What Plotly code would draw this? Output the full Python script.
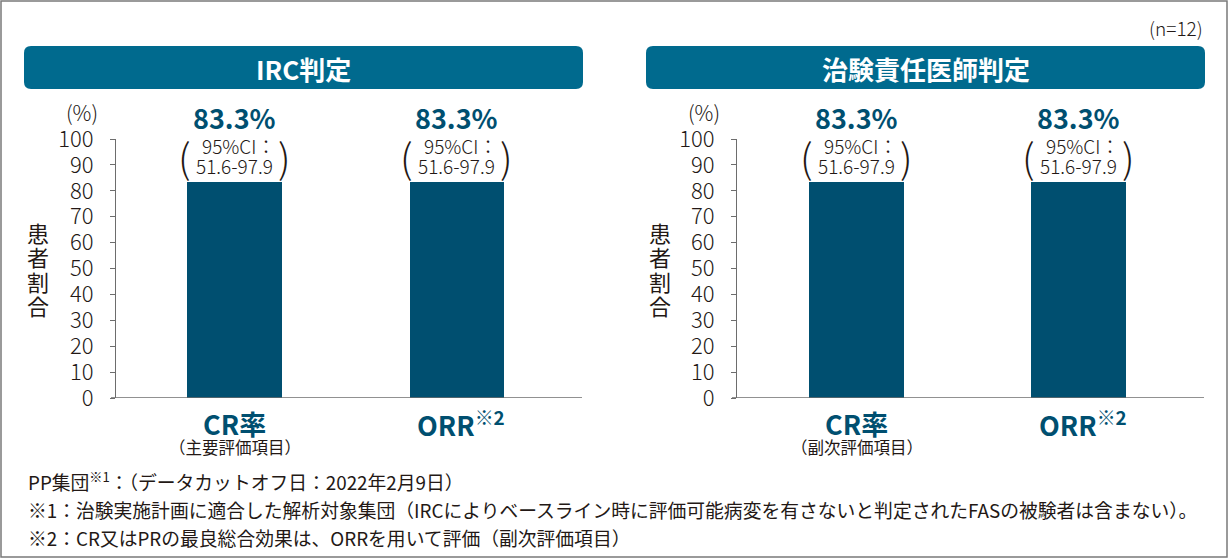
import plotly.graph_objects as go

W, H = 1229, 560

# ---- data ----
categories = ["CR率", "ORR"]
category_labels = ["CR率", "ORR<sup>※2</sup>"]
irc_values = [83.3, 83.3]
irc_ci_low = [51.6, 51.6]
irc_ci_high = [97.9, 97.9]
irc_sub = ["（主要評価項目）", ""]
inv_values = [83.3, 83.3]
inv_ci_low = [51.6, 51.6]
inv_ci_high = [97.9, 97.9]
inv_sub = ["（副次評価項目）", ""]
y_ticks = [0, 10, 20, 30, 40, 50, 60, 70, 80, 90, 100]
panel_titles = ["IRC判定", "治験責任医師判定"]
n_label = "(n=12)"
y_title_chars = ["患", "者", "割", "合"]
footnotes = [
    "PP集団<sup>※1</sup>：（データカットオフ日：2022年2月9日）",
    "※1：治験実施計画に適合した解析対象集団（IRCによりベースライン時に評価可能病変を有さないと判定されたFASの被験者は含まない）。",
    "※2：CR又はPRの最良総合効果は、ORRを用いて評価（副次評価項目）",
]

BAR = "#004f70"
HEAD = "#006a8e"
TXT = "#231815"
AX = "#6d6d6d"
FONT = "Noto Sans CJK JP"

def px(x):
    return x / W

def py(y):
    return 1 - y / H

fig = go.Figure()

panels = [
    dict(vals=irc_values, lo=irc_ci_low, hi=irc_ci_high, sub=irc_sub, xa="x", ya="y",
         dom=(116, 582), rng=[-0.533, 1.562], width=0.427, head=(24, 583), yt_x=38, pct_x=82),
    dict(vals=inv_values, lo=inv_ci_low, hi=inv_ci_high, sub=inv_sub, xa="x2", ya="y2",
         dom=(737, 1204), rng=[-0.54, 1.564], width=0.428, head=(646, 1205), yt_x=660, pct_x=704),
]

annotations = []
shapes = []

def rounded_rect(x0, y0, x1, y1, r):
    X0, X1 = px(x0), px(x1)
    Y0, Y1 = py(y0), py(y1)
    rx, ry = r / W, r / H
    return (f"M {X0+rx},{Y0} L {X1-rx},{Y0} Q {X1},{Y0} {X1},{Y0-ry} "
            f"L {X1},{Y1+ry} Q {X1},{Y1} {X1-rx},{Y1} L {X0+rx},{Y1} "
            f"Q {X0},{Y1} {X0},{Y1+ry} L {X0},{Y0-ry} Q {X0},{Y0} {X0+rx},{Y0} Z")

for i, p in enumerate(panels):
    fig.add_trace(go.Bar(x=categories, y=p["vals"], width=p["width"], marker=dict(color=BAR, line=dict(width=0)),
                         xaxis=p["xa"], yaxis=p["ya"], hoverinfo="skip", showlegend=False))
    # header box
    shapes.append(dict(type="path", path=rounded_rect(p["head"][0], 46, p["head"][1], 89, 7),
                       xref="paper", yref="paper", fillcolor=HEAD, line=dict(width=0), layer="below"))
    annotations.append(dict(text=f"<b>{panel_titles[i]}</b>", x=px((p["head"][0] + p["head"][1]) / 2), y=py(68),
                            xref="paper", yref="paper", showarrow=False, xanchor="center", yanchor="middle",
                            font=dict(size=26, color="white", family=FONT)))
    # x-axis baseline
    shapes.append(dict(type="line", x0=px(p["dom"][0] - 5), x1=px(p["dom"][1]), y0=0, y1=0,
                       xref="paper", yref=p["ya"], line=dict(color=AX, width=1.3)))
    # (%) label
    annotations.append(dict(text="(%)", x=px(p["pct_x"]), y=py(112), xref="paper", yref="paper",
                            xanchor="center", yanchor="middle",
                            showarrow=False, font=dict(size=21, color=TXT, family=FONT, weight=300)))
    # vertical y title (upright stacked characters)
    for k, ch in enumerate(y_title_chars):
        annotations.append(dict(text=ch, x=px(p["yt_x"]), y=py(232 + 24.3 * k), xref="paper", yref="paper",
                                xanchor="center", yanchor="middle",
                                showarrow=False, font=dict(size=22, color=TXT, family=FONT)))
    for j, c in enumerate(categories):
        v = p["vals"][j]
        common = dict(x=c, y=v, xref=p["xa"], yref=p["ya"], showarrow=False, xanchor="center", yanchor="middle")
        annotations.append(dict(common, text=f"<b>{v:.1f}%</b>", yshift=65,
                                font=dict(size=27, color=BAR, family=FONT)))
        annotations.append(dict(common, text="95%CI：", yshift=37, xshift=4,
                                font=dict(size=19, color=TXT, family=FONT, weight=300)))
        annotations.append(dict(common, text=f"{p['lo'][j]:.1f}-{p['hi'][j]:.1f}", yshift=17,
                                font=dict(size=19, color=TXT, family=FONT, weight=300)))
        annotations.append(dict(common, text="(", yshift=26, xshift=-50,
                                font=dict(size=40, color=TXT, family=FONT, weight=200)))
        annotations.append(dict(common, text=")", yshift=26, xshift=50,
                                font=dict(size=40, color=TXT, family=FONT, weight=200)))
        annotations.append(dict(x=c, y=0, xref=p["xa"], yref=p["ya"], showarrow=False, xanchor="center",
                                yanchor="middle", yshift=-25, xshift=4 if j == 1 else 0,
                                text=f"<b>{category_labels[j]}</b>",
                                font=dict(size=27, color=BAR, family=FONT)))
        if p["sub"][j]:
            annotations.append(dict(x=c, y=0, xref=p["xa"], yref=p["ya"], showarrow=False, xanchor="center",
                                    yanchor="middle", yshift=-49, text=p["sub"][j],
                                    font=dict(size=16.5, color=TXT, family=FONT)))

annotations.append(dict(text=n_label, x=px(1205), y=py(27), xref="paper", yref="paper", showarrow=False,
                        xanchor="right", yanchor="middle", font=dict(size=19, color=TXT, family=FONT, weight=300)))
for k, t in enumerate(footnotes):
    annotations.append(dict(text=t, x=px(26), y=py(481 + 28 * k), xref="paper", yref="paper", showarrow=False,
                            xanchor="left", yanchor="middle", font=dict(size=18.8, color=TXT, family=FONT)))

# outer frame
shapes.append(dict(type="rect", x0=px(1), x1=px(1227), y0=py(1), y1=py(557), xref="paper", yref="paper",
                   line=dict(color="#7a7a7a", width=1.5)))

ydom = [py(398), py(139)]
yaxis_common = dict(range=[0, 100], domain=ydom, tickvals=y_ticks, showline=True, linecolor=AX, linewidth=1.3,
                    ticks="outside", ticklen=5, tickcolor=AX, tickwidth=1.3, showgrid=False, zeroline=False,
                    tickfont=dict(size=22, color=TXT, family=FONT, weight=300), ticklabelstandoff=12,
                    fixedrange=True, automargin=False)
xaxis_common = dict(showline=False, showticklabels=False, ticks="", showgrid=False, zeroline=False,
                    type="category", fixedrange=True, automargin=False)

fig.update_layout(
    width=W, height=H, margin=dict(l=0, r=0, t=0, b=0, pad=0, autoexpand=False),
    paper_bgcolor="white", plot_bgcolor="white",
    font=dict(family=FONT, color=TXT), showlegend=False,
    xaxis=dict(xaxis_common, domain=[px(panels[0]["dom"][0]), px(panels[0]["dom"][1])],
               range=panels[0]["rng"], anchor="y"),
    yaxis=dict(yaxis_common, anchor="x"),
    xaxis2=dict(xaxis_common, domain=[px(panels[1]["dom"][0]), px(panels[1]["dom"][1])],
                range=panels[1]["rng"], anchor="y2"),
    yaxis2=dict(yaxis_common, anchor="x2"),
    annotations=annotations, shapes=shapes, bargap=0,
)

fig.write_html("out.html", config={"displayModeBar": False},
               post_script="document.body.style.margin='0';document.body.style.overflow='hidden';")
